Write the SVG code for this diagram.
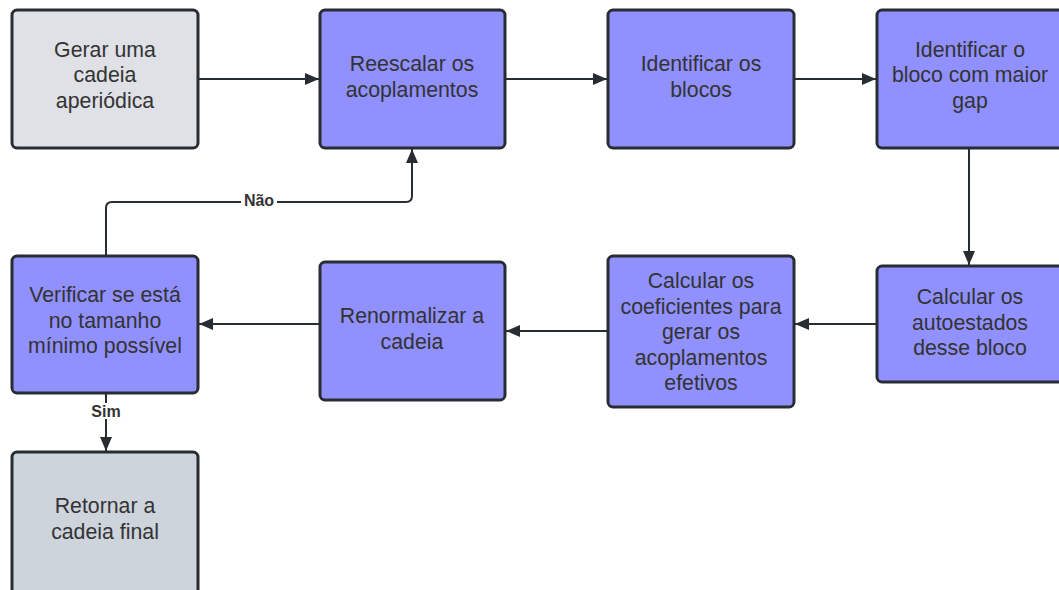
<svg xmlns="http://www.w3.org/2000/svg" width="1059" height="590" viewBox="0 0 1059 590">
<style>
.n rect{stroke:#282c33;stroke-width:3}
.p{fill:#9090ff}
.g1{fill:#dfe1e6}
.g2{fill:#ced4dc}
text{font-family:"Liberation Sans",Arial,sans-serif;font-size:21.3px;fill:#333333;text-anchor:middle}
.lb{font-size:16px;font-weight:bold;fill:#333333}
.c path{fill:none;stroke:#282c33;stroke-width:2}
</style>
<defs>
<marker id="ah" viewBox="0 0 14 12" refX="14" refY="6" markerWidth="14" markerHeight="12" markerUnits="userSpaceOnUse" orient="auto">
<path d="M0,0 L14,6 L0,12 Z" fill="#282c33"/>
</marker>
</defs>
<rect width="1059" height="590" fill="#ffffff"/>
<g class="c" id="connectors">
<path d="M198,79 H319" marker-end="url(#ah)"/>
<path d="M505,79 H607" marker-end="url(#ah)"/>
<path d="M794,79 H876" marker-end="url(#ah)"/>
<path d="M969,148 V265" marker-end="url(#ah)"/>
<path d="M877,324 H795" marker-end="url(#ah)"/>
<path d="M608,331 H506" marker-end="url(#ah)"/>
<path d="M320,324 H199" marker-end="url(#ah)"/>
<path d="M106,256 V208 Q106,202 112,202 H406 Q412,202 412,196 V149" marker-end="url(#ah)"/>
<path d="M106,393 V451" marker-end="url(#ah)"/>
<rect x="241" y="192" width="36" height="16" fill="#ffffff"/>
<text class="lb" x="259" y="206">Não</text>
<rect x="88" y="403" width="36" height="16" fill="#ffffff"/>
<text class="lb" x="106" y="417">Sim</text>
</g>
<g class="n" id="n1"><rect class="g1" x="12" y="10" width="186" height="138" rx="5"/>
<text x="105" y="57">Gerar uma</text><text x="105" y="82">cadeia</text><text x="105" y="108">aperiódica</text></g>
<g class="n" id="n2"><rect class="p" x="320" y="10" width="185" height="138" rx="5"/>
<text x="412" y="71">Reescalar os</text><text x="412" y="97">acoplamentos</text></g>
<g class="n" id="n3"><rect class="p" x="608" y="10" width="186" height="138" rx="5"/>
<text x="701" y="71">Identificar os</text><text x="701" y="97">blocos</text></g>
<g class="n" id="n4"><rect class="p" x="877" y="10" width="190" height="138" rx="5"/>
<text x="970" y="57">Identificar o</text><text x="970" y="82">bloco com maior</text><text x="970" y="108">gap</text></g>
<g class="n" id="n5"><rect class="p" x="877" y="266" width="190" height="116" rx="5"/>
<text x="970" y="304">Calcular os</text><text x="970" y="330">autoestados</text><text x="970" y="355">desse bloco</text></g>
<g class="n" id="n6"><rect class="p" x="608" y="256" width="186" height="151" rx="5"/>
<text x="701" y="288">Calcular os</text><text x="701" y="314">coeficientes para</text><text x="701" y="339">gerar os</text><text x="701" y="365">acoplamentos</text><text x="701" y="390">efetivos</text></g>
<g class="n" id="n7"><rect class="p" x="320" y="262" width="185" height="138" rx="5"/>
<text x="412" y="323">Renormalizar a</text><text x="412" y="349">cadeia</text></g>
<g class="n" id="n8"><rect class="p" x="12" y="256" width="186" height="137" rx="5"/>
<text x="105" y="302">Verificar se está</text><text x="105" y="328">no tamanho</text><text x="105" y="353">mínimo possível</text></g>
<g class="n" id="n9"><rect class="g2" x="12" y="452" width="186" height="145" rx="5"/>
<text x="105" y="513">Retornar a</text><text x="105" y="539">cadeia final</text></g>
</svg>
